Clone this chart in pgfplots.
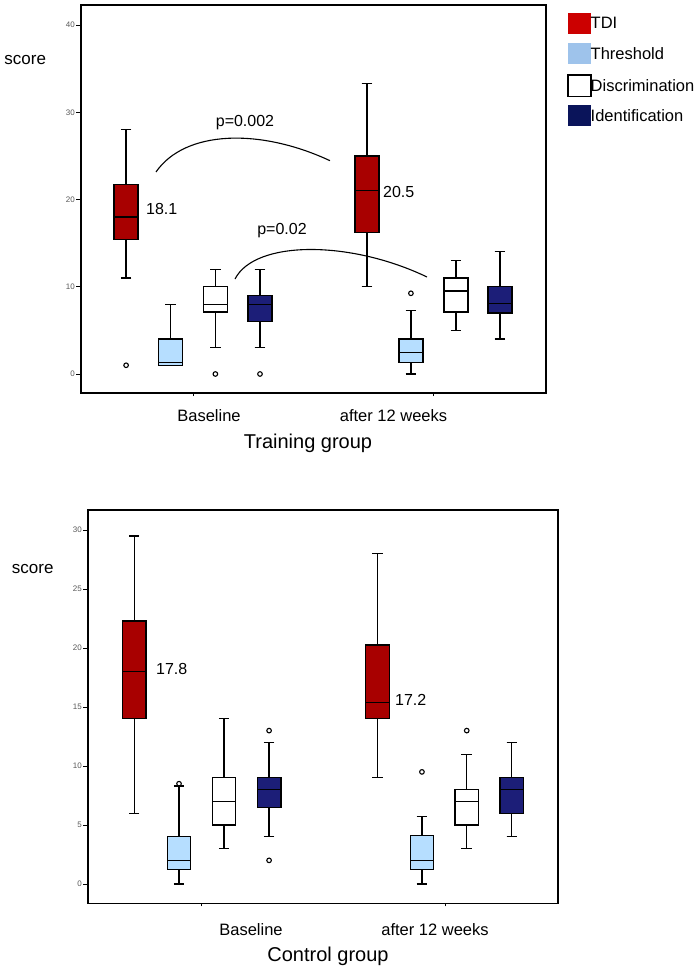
\documentclass[border=0pt]{standalone}
\usepackage{pgfplots}
\pgfplotsset{compat=1.18}
\usepgfplotslibrary{statistics}
\usepackage{fontspec}
\setmainfont{Liberation Sans}
\definecolor{tdired}{RGB}{168,0,0}
\definecolor{thrblue}{RGB}{182,222,255}
\definecolor{idnavy}{RGB}{28,30,120}
\definecolor{legred}{RGB}{204,0,0}
\definecolor{legblue}{RGB}{158,195,235}
\definecolor{legnavy}{RGB}{10,20,90}
\pgfplotsset{
  myaxis/.style={scale only axis, clip=false,
    axis line style={line width=1.4pt},
    tick align=outside, ytick pos=left, xtick pos=bottom,
    major tick length=5pt, tick style={black,line width=0.9pt},
    xtick=\empty, extra x ticks={0,1}, extra x tick labels={},
    extra tick style={major tick length=3pt, tick style={black,line width=0.9pt}},
    yticklabel style={font=\fontsize{8}{9}\selectfont, text=black!65, inner sep=1pt},
    /pgf/number format/assume math mode=true,
  },
  bp/.style n args={6}{boxplot prepared={draw direction=y, draw position=#1, lower whisker=#2, lower quartile=#3, median=#4, upper quartile=#5, upper whisker=#6}, draw=black, line width=1.25pt, mark=o, mark size=2.3pt, mark options={solid, draw=black, line width=1.1pt}},
}
\begin{document}
\begin{tikzpicture}
\path[use as bounding box] (0,0) rectangle (700pt,-971pt);
% ---------------- Training group ----------------
\begin{axis}[myaxis, at={(81pt,-393pt)}, anchor=south west,
  width=465pt, height=388pt, xmin=-0.467, xmax=1.471, ymin=-2.18, ymax=42.3,
  ytick={0,10,20,30,40},
  boxplot/box extend=0.1, boxplot/whisker extend=0.044]
\addplot[bp={-0.279}{11}{15.4}{18}{21.7}{28}, fill=tdired] coordinates {(0,1)};
\addplot[bp={-0.093}{1}{1}{1.3}{4}{8}, fill=thrblue] coordinates {};
\addplot[bp={0.093}{3}{7.1}{8}{10}{12}, fill=white] coordinates {(0,0)};
\addplot[bp={0.279}{3}{6}{8}{9}{12}, fill=idnavy] coordinates {(0,0)};
\addplot[bp={0.725}{10}{16.2}{21}{25}{33.3}, fill=tdired] coordinates {};
\addplot[bp={0.908}{0}{1.3}{2.5}{4}{7.25}, fill=thrblue] coordinates {(0,9.25)};
\addplot[bp={1.096}{5}{7.1}{9.5}{11}{13}, fill=white] coordinates {};
\addplot[bp={1.279}{4}{7}{8.1}{10}{14}, fill=idnavy] coordinates {};
\end{axis}
% ---------------- Control group ----------------
\begin{axis}[myaxis, at={(88pt,-903.3pt)}, anchor=south west,
  width=470pt, height=393.3pt, xmin=-0.467, xmax=1.464, ymin=-1.64, ymax=31.7,
  ytick={0,5,10,15,20,25,30},
  boxplot/box extend=0.097, boxplot/whisker extend=0.043]
\addplot[bp={-0.277}{6}{14}{18}{22.3}{29.5}, fill=tdired] coordinates {};
\addplot[bp={-0.093}{0}{1.2}{2}{4}{8.3}, fill=thrblue] coordinates {(0,8.5)};
\addplot[bp={0.092}{3}{5}{7}{9}{14}, fill=white] coordinates {};
\addplot[bp={0.277}{4}{6.5}{8}{9}{12}, fill=idnavy] coordinates {(0,13) (0,2)};
\addplot[bp={0.722}{9}{14}{15.4}{20.25}{28}, fill=tdired] coordinates {};
\addplot[bp={0.905}{0}{1.2}{2}{4.1}{5.75}, fill=thrblue] coordinates {(0,9.5)};
\addplot[bp={1.089}{3}{5}{7}{8}{11}, fill=white] coordinates {(0,13)};
\addplot[bp={1.274}{4}{6}{8}{9}{12}, fill=idnavy] coordinates {};
\end{axis}
% ---------------- annotations ----------------
\draw[line width=1.1pt] (156pt,-172pt) .. controls (185pt,-130pt) and (260pt,-128pt) .. (330pt,-160.7pt);
\draw[line width=1.1pt] (235pt,-279pt) .. controls (255pt,-240pt) and (350pt,-240pt) .. (427pt,-277pt);
\begin{scope}[every node/.style={inner sep=0pt}]
\node[anchor=base] at (245pt,-126.7pt) {\fontsize{16}{18}\selectfont p=0.002};
\node[anchor=base] at (282pt,-234.3pt) {\fontsize{16}{18}\selectfont p=0.02};
\node[anchor=base west] at (146pt,-214pt) {\fontsize{16}{18}\selectfont 18.1};
\node[anchor=base west] at (383pt,-197.3pt) {\fontsize{16}{18}\selectfont 20.5};
\node[anchor=base west] at (156pt,-674pt) {\fontsize{16}{18}\selectfont 17.8};
\node[anchor=base west] at (395pt,-705pt) {\fontsize{16}{18}\selectfont 17.2};
\node[anchor=base west] at (4.3pt,-65pt) {\fontsize{17}{19}\selectfont score};
\node[anchor=base west] at (11.7pt,-573.3pt) {\fontsize{17}{19}\selectfont score};
\node[anchor=base] at (209pt,-421.5pt) {\fontsize{16.5}{19}\selectfont Baseline};
\node[anchor=base] at (393.5pt,-421.5pt) {\fontsize{16.5}{19}\selectfont after 12 weeks};
\node[anchor=base] at (308pt,-448pt) {\fontsize{20}{23}\selectfont Training group};
\node[anchor=base] at (251pt,-935pt) {\fontsize{16.5}{19}\selectfont Baseline};
\node[anchor=base] at (435pt,-935pt) {\fontsize{16.5}{19}\selectfont after 12 weeks};
\node[anchor=base] at (328pt,-961pt) {\fontsize{20}{23}\selectfont Control group};
% legend
\fill[legred] (568pt,-13pt) rectangle (591pt,-34pt);
\fill[legblue] (568pt,-42.7pt) rectangle (591pt,-64pt);
\draw[black, line width=1.1pt, fill=white] (568pt,-75pt) rectangle (591pt,-96.7pt);
\fill[legnavy] (568pt,-105pt) rectangle (591pt,-125.7pt);
\node[anchor=base west] at (590.5pt,-28.3pt) {\fontsize{16.5}{19}\selectfont TDI};
\node[anchor=base west] at (590.5pt,-60pt) {\fontsize{16.5}{19}\selectfont Threshold};
\node[anchor=base west] at (590.5pt,-91.7pt) {\fontsize{16.5}{19}\selectfont Discrimination};
\node[anchor=base west] at (590.5pt,-121.7pt) {\fontsize{16.5}{19}\selectfont Identification};
\end{scope}
\end{tikzpicture}
\end{document}
